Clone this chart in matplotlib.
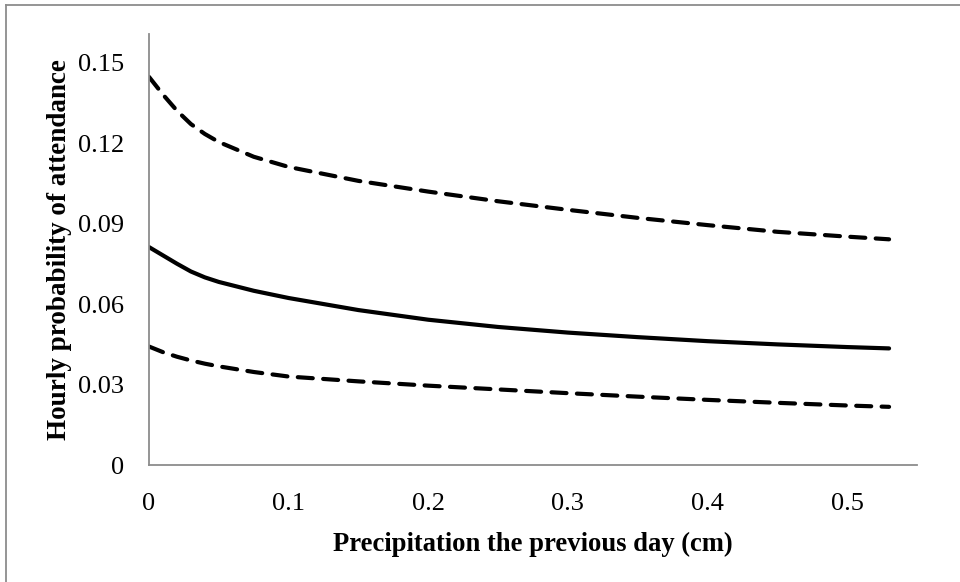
import matplotlib
matplotlib.use("Agg")
import matplotlib.pyplot as plt
from matplotlib.lines import Line2D

precip = [0, 0.01, 0.02, 0.03, 0.04, 0.05, 0.075, 0.1, 0.15, 0.2, 0.25, 0.3, 0.35, 0.4, 0.45, 0.5, 0.53]
prob_mean = [0.0813, 0.0782, 0.0751, 0.0722, 0.0700, 0.0683, 0.0650, 0.0623, 0.0578, 0.0542,
             0.0515, 0.0494, 0.0477, 0.0462, 0.0450, 0.0440, 0.0435]
prob_upper = [0.1448, 0.1382, 0.1322, 0.1272, 0.1235, 0.1205, 0.1150, 0.1112, 0.1060, 0.1020,
              0.0984, 0.0952, 0.0922, 0.0895, 0.0870, 0.0852, 0.0842]
prob_lower = [0.0442, 0.0421, 0.0404, 0.0390, 0.0378, 0.0368, 0.0347, 0.0330, 0.0312, 0.0296,
              0.0282, 0.0268, 0.0255, 0.0243, 0.0232, 0.0222, 0.0217]
xticks = [0, 0.1, 0.2, 0.3, 0.4, 0.5]
xtick_labels = ["0", "0.1", "0.2", "0.3", "0.4", "0.5"]
yticks = [0, 0.03, 0.06, 0.09, 0.12, 0.15]
ytick_labels = ["0", "0.03", "0.06", "0.09", "0.12", "0.15"]

plt.rcParams['font.family'] = ['Liberation Serif', 'DejaVu Serif']

fig = plt.figure(figsize=(9.6, 5.82), dpi=100)
ax = fig.add_axes([149/960, 1 - 465/582, (917-149)/960, (465-34)/582])

ax.plot(precip, prob_mean, color='black', lw=3.0, solid_capstyle='round', solid_joinstyle='round')
for s in (prob_upper, prob_lower):
    ax.plot(precip, s, color='black', lw=3.0, linestyle=(0, (3.6, 2.5)),
            dash_capstyle='round')

ax.set_xlim(0, 0.55)
ax.set_ylim(0, 0.1608)
ax.set_xticks(xticks)
ax.set_xticklabels(xtick_labels)
ax.set_yticks(yticks)
ax.set_yticklabels(ytick_labels)
ax.tick_params(axis='both', length=0, labelsize=19, colors='black')
ax.tick_params(axis='x', pad=20)
ax.tick_params(axis='y', pad=18)
for side in ('top', 'right'):
    ax.spines[side].set_visible(False)
for side in ('left', 'bottom'):
    ax.spines[side].set_color('#8c8c8c')
    ax.spines[side].set_linewidth(1.3)

ax.set_xlabel("Precipitation the previous day (cm)", fontsize=19.2, fontweight='bold', labelpad=12)
ax.set_ylabel("Hourly probability of attendance", fontsize=19.5, fontweight='bold', labelpad=4)

# figure outer border (top and left)
fig.add_artist(Line2D([6/960, 1], [1 - 5/582, 1 - 5/582], color='#8c8c8c', lw=1.3,
                      transform=fig.transFigure))
fig.add_artist(Line2D([6/960, 6/960], [0, 1 - 5/582], color='#8c8c8c', lw=1.3,
                      transform=fig.transFigure))

fig.savefig("out.png", dpi=100)
